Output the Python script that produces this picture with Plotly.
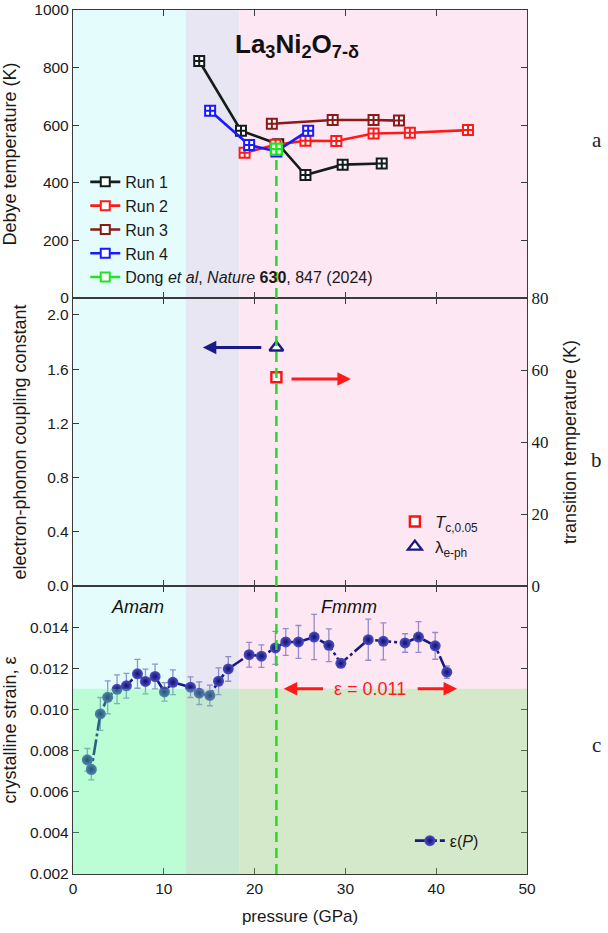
import plotly.graph_objects as go

# ---------------- data ----------------
# Panel a: Debye temperature (K) vs pressure (GPa)
run1_p = [13.9, 18.5, 22.6, 25.6, 29.7, 34.0]
run1_T = [823, 581, 534, 427, 463, 467]
run2_p = [18.9, 22.3, 25.6, 29.0, 33.1, 37.1, 43.5]
run2_T = [504, 532, 546, 545, 571, 574, 583]
run3_p = [21.9, 28.6, 33.1, 35.9]
run3_T = [605, 618, 618, 616]
run4_p = [15.1, 19.4, 22.4, 25.9]
run4_T = [650, 531, 509, 581]
dong_p = [22.4]
dong_T = [517]

# Panel b: electron-phonon coupling and transition temperature
tc_p = [22.4]
tc_K = [58]
lam_p = [22.4]
lam_val = [1.76]

# Panel c: crystalline strain vs pressure
eps_p = [1.58, 2.02, 3.01, 3.82, 4.85, 5.88, 7.1, 7.98, 9.04, 10.07,
         11.0, 12.94, 13.9, 15.07, 16.03, 17.1, 19.4, 20.75, 22.29, 23.43,
         24.83, 26.56, 28.18, 29.5, 32.52, 34.18, 36.57, 38.05, 39.89, 41.17]
eps_val = [0.00755, 0.00708, 0.00978, 0.01059, 0.01098, 0.01115, 0.01173, 0.01136, 0.0116, 0.01085,
           0.01132, 0.01108, 0.01079, 0.01068, 0.01137, 0.01197, 0.01266, 0.01259, 0.01299, 0.01328,
           0.01328, 0.01352, 0.01312, 0.01224, 0.01339, 0.01331, 0.01323, 0.01352, 0.01309, 0.01181]
eps_err = [0.00055, 0.0005, 0.0008, 0.0008, 0.0007, 0.0006, 0.0007, 0.0006, 0.0006, 0.00045,
           0.0006, 0.0005, 0.00055, 0.0005, 0.00065, 0.0006, 0.0006, 0.00055, 0.0008, 0.00065,
           0.0008, 0.0011, 0.0008, 0.0002, 0.001, 0.0009, 0.00045, 0.00075, 0.00065, 0.0003]

# phase regions (GPa) and strain threshold
phase_bounds = [0, 12.4, 18.3, 50]
eps_threshold = 0.011

x_ticks = [0, 10, 20, 30, 40, 50]
debye_ticks = [0, 200, 400, 600, 800, 1000]
lam_ticks = [0.0, 0.4, 0.8, 1.2, 1.6, 2.0]
tc_ticks = [0, 20, 40, 60, 80]
eps_ticks = [0.002, 0.004, 0.006, 0.008, 0.010, 0.012, 0.014]

# ---------------- styling ----------------
FONT = "Liberation Sans, Arial, sans-serif"
SERIF = "Liberation Serif, Times New Roman, serif"
AX = "#3a3a3a"
bg_colors = ["#E5FCFC", "#E8E6F2", "#FDE7F2"]
green_colors = ["rgba(89,255,119,0.3)", "rgba(119,237,135,0.3)", "rgba(120,234,109,0.3)"]
C1, C2, C3, C4, C5 = "#141c1c", "#ff1a1a", "#8b1a1a", "#1a1aff", "#1ee61e"
NAVY = "#1a1a85"

fig = go.Figure()

def run_trace(px, py, col, name):
    fig.add_trace(go.Scatter(
        x=px, y=py, xaxis="x3", yaxis="y4", mode="lines+markers", name=name,
        line=dict(color=col, width=2.6), showlegend=False,
        marker=dict(symbol="square-cross", size=10, color="white",
                    line=dict(color=col, width=2))))

run_trace(run1_p, run1_T, C1, "Run 1")
run_trace(run2_p, run2_T, C2, "Run 2")
run_trace(run3_p, run3_T, C3, "Run 3")
run_trace(run4_p, run4_T, C4, "Run 4")
fig.add_trace(go.Scatter(
    x=dong_p, y=dong_T, xaxis="x3", yaxis="y4", mode="markers", showlegend=False,
    marker=dict(symbol="square-cross", size=11, color="white", line=dict(color=C5, width=2.4))))

# legend entries for panel a
leg_names = ["Run 1", "Run 2", "Run 3", "Run 4",
             "Dong <i>et al</i>, <i>Nature</i> <b>630</b>, 847 (2024)"]
for col, nm in zip([C1, C2, C3, C4, C5], leg_names):
    fig.add_trace(go.Scatter(
        x=[None], y=[None], xaxis="x3", yaxis="y4", mode="lines+markers", name=nm,
        legend="legend", line=dict(color=col, width=2.6),
        marker=dict(symbol="square", size=9, color="white", line=dict(color=col, width=2))))

# panel b
fig.add_trace(go.Scatter(
    x=tc_p, y=tc_K, xaxis="x2", yaxis="y3", mode="markers", legend="legend2",
    name="<i>T</i><sub>c,0.05</sub>",
    marker=dict(symbol="square", size=10, color="white", line=dict(color="#ff1010", width=2.4))))
fig.add_trace(go.Scatter(
    x=lam_p, y=lam_val, xaxis="x2", yaxis="y2", mode="markers", legend="legend2",
    name="λ<sub>e-ph</sub>",
    marker=dict(symbol="triangle-up", size=12, color="white", line=dict(color=NAVY, width=2.4))))

# panel c
fig.add_trace(go.Scatter(
    x=eps_p, y=eps_val, xaxis="x", yaxis="y", mode="lines+markers", legend="legend3",
    name="ε(<i>P</i>)",
    line=dict(color=NAVY, width=2.6, dash="16px,3px,3px,3px"),
    error_y=dict(type="data", array=eps_err, visible=True, color="rgba(80,80,175,0.6)",
                 thickness=1.3, width=3),
    marker=dict(size=11, color="#5050c8", gradient=dict(type="radial", color="#10106e"),
                line=dict(width=0))))

# ---------------- shapes ----------------
shapes = []
panels = [("x3", "y4 domain"), ("x2", "y2 domain"), ("x", "y domain")]
for xr, yr in panels:
    for i in range(3):
        shapes.append(dict(type="rect", xref=xr, yref=yr, x0=phase_bounds[i], x1=phase_bounds[i + 1],
                           y0=0, y1=1, fillcolor=bg_colors[i], line=dict(width=0), layer="below"))
for i in range(3):
    shapes.append(dict(type="rect", xref="x", yref="y", x0=phase_bounds[i], x1=phase_bounds[i + 1],
                       y0=eps_ticks[0], y1=eps_threshold, fillcolor=green_colors[i],
                       line=dict(width=0), layer="above"))
dash_line = dict(color="#22dd22", width=2.5, dash="10px,6px")
shapes.append(dict(type="line", xref="x3", yref="y4", x0=dong_p[0], x1=dong_p[0], y0=0, y1=dong_T[0],
                   line=dash_line, layer="below"))
shapes.append(dict(type="line", xref="x2", yref="y2 domain", x0=dong_p[0], x1=dong_p[0], y0=0, y1=1,
                   line=dash_line, layer="above"))
shapes.append(dict(type="line", xref="x", yref="y domain", x0=dong_p[0], x1=dong_p[0], y0=0, y1=1,
                   line=dash_line, layer="above"))

# ---------------- annotations ----------------
ann = []
ann.append(dict(xref="x3", yref="y4", x=24.7, y=878, showarrow=False,
                text="<b>La<sub>3</sub>Ni<sub>2</sub>O<sub>7-δ</sub></b>",
                font=dict(family=FONT, size=26, color="#111")))
ann.append(dict(xref="x", yref="y", x=7.1, y=0.0150, showarrow=False, text="<i>Amam</i>",
                font=dict(family=FONT, size=18, color="#111")))
ann.append(dict(xref="x", yref="y", x=30.4, y=0.0150, showarrow=False, text="<i>Fmmm</i>",
                font=dict(family=FONT, size=18, color="#111")))
ann.append(dict(xref="x", yref="y", x=32.75, y=eps_threshold, showarrow=False, text="ε = 0.011",
                font=dict(family=FONT, size=18, color="#ff1a1a")))
arrow_style = dict(showarrow=True, arrowhead=2, arrowsize=0.9, arrowwidth=3, text="")
ann.append(dict(xref="x", yref="y", axref="x", ayref="y", x=23.2, y=eps_threshold, ax=27.7,
                ay=eps_threshold, arrowcolor="#ff1a1a", **arrow_style))
ann.append(dict(xref="x", yref="y", axref="x", ayref="y", x=42.3, y=eps_threshold, ax=37.8,
                ay=eps_threshold, arrowcolor="#ff1a1a", **arrow_style))
ann.append(dict(xref="x2", yref="y2", axref="x2", ayref="y2", x=14.3, y=lam_val[0], ax=20.9,
                ay=lam_val[0], arrowcolor=NAVY, **arrow_style))
ann.append(dict(xref="x2", yref="y3", axref="x2", ayref="y3", x=30.6, y=tc_K[0] - 0.5, ax=23.9,
                ay=tc_K[0] - 0.5, arrowcolor="#ff1a1a", **arrow_style))
for lbl, yp in zip(["a", "b", "c"], [0.85, 0.479, 0.149]):
    ann.append(dict(xref="paper", yref="paper", x=1.154, y=yp, xanchor="center", yanchor="middle",
                    showarrow=False, text=lbl,
                    font=dict(family=SERIF, size=21, color="#222")))

# ---------------- axes ----------------
common = dict(showline=True, linecolor=AX, linewidth=1.3, ticks="inside", ticklen=6, tickwidth=1.2,
              tickcolor=AX, showgrid=False, zeroline=False, automargin=False,
              tickfont=dict(family=FONT, size=15.5, color="#1a1a1a"))
title_font = dict(family=FONT, size=18, color="#1a1a1a")

fig.update_layout(
    width=608, height=933,
    margin=dict(l=73, r=81, t=10, b=59),
    paper_bgcolor="white", plot_bgcolor="white",
    font=dict(family=FONT, color="#1a1a1a"),
    shapes=shapes, annotations=ann,
    xaxis=dict(common, domain=[0, 1], anchor="y", range=[0, 50], tickvals=x_ticks, mirror="ticks",
               title=dict(text="pressure (GPa)", font=dict(family=FONT, size=17, color="#1a1a1a"), standoff=14)),
    xaxis2=dict(common, domain=[0, 1], anchor="y2", range=[0, 50], tickvals=x_ticks, mirror="ticks",
                matches="x", showticklabels=False),
    xaxis3=dict(common, domain=[0, 1], anchor="y4", range=[0, 50], tickvals=x_ticks, mirror="ticks",
                matches="x", showticklabels=False),
    yaxis=dict(common, domain=[0, 1 / 3], anchor="x", range=[0.002, 0.016], tickvals=eps_ticks,
               tickformat=".3f", mirror="ticks",
               title=dict(text="crystalline strain, ε", font=title_font)),
    yaxis2=dict(common, domain=[1 / 3, 2 / 3], anchor="x2", range=[0, 2.125], tickvals=lam_ticks,
                tickformat=".1f", mirror=False,
                title=dict(text="electron-phonon coupling constant", font=title_font)),
    yaxis3=dict(common, overlaying="y2", side="right", anchor="x2", range=[0, 80], tickvals=tc_ticks,
                tickfont=dict(family=SERIF, size=17, color="#1a1a1a"),
                title=dict(text="transition temperature (K)", font=title_font)),
    yaxis4=dict(common, domain=[2 / 3, 1], anchor="x3", range=[0, 1000], tickvals=debye_ticks,
                mirror="ticks",
                title=dict(text="Debye temperature (K)", font=title_font)),
    legend=dict(x=0.027, y=0.746, xanchor="left", yanchor="middle", bgcolor="rgba(0,0,0,0)",
                font=dict(family=FONT, size=16, color="#1a1a1a"), tracegroupgap=0),
    legend2=dict(x=0.709, y=0.393, xanchor="left", yanchor="middle", bgcolor="rgba(0,0,0,0)",
                 font=dict(family=FONT, size=17, color="#1a1a1a")),
    legend3=dict(x=0.742, y=0.0385, xanchor="left", yanchor="middle", bgcolor="rgba(0,0,0,0)",
                 font=dict(family=FONT, size=16, color="#1a1a1a")),
)

fig.write_html("out.html")
